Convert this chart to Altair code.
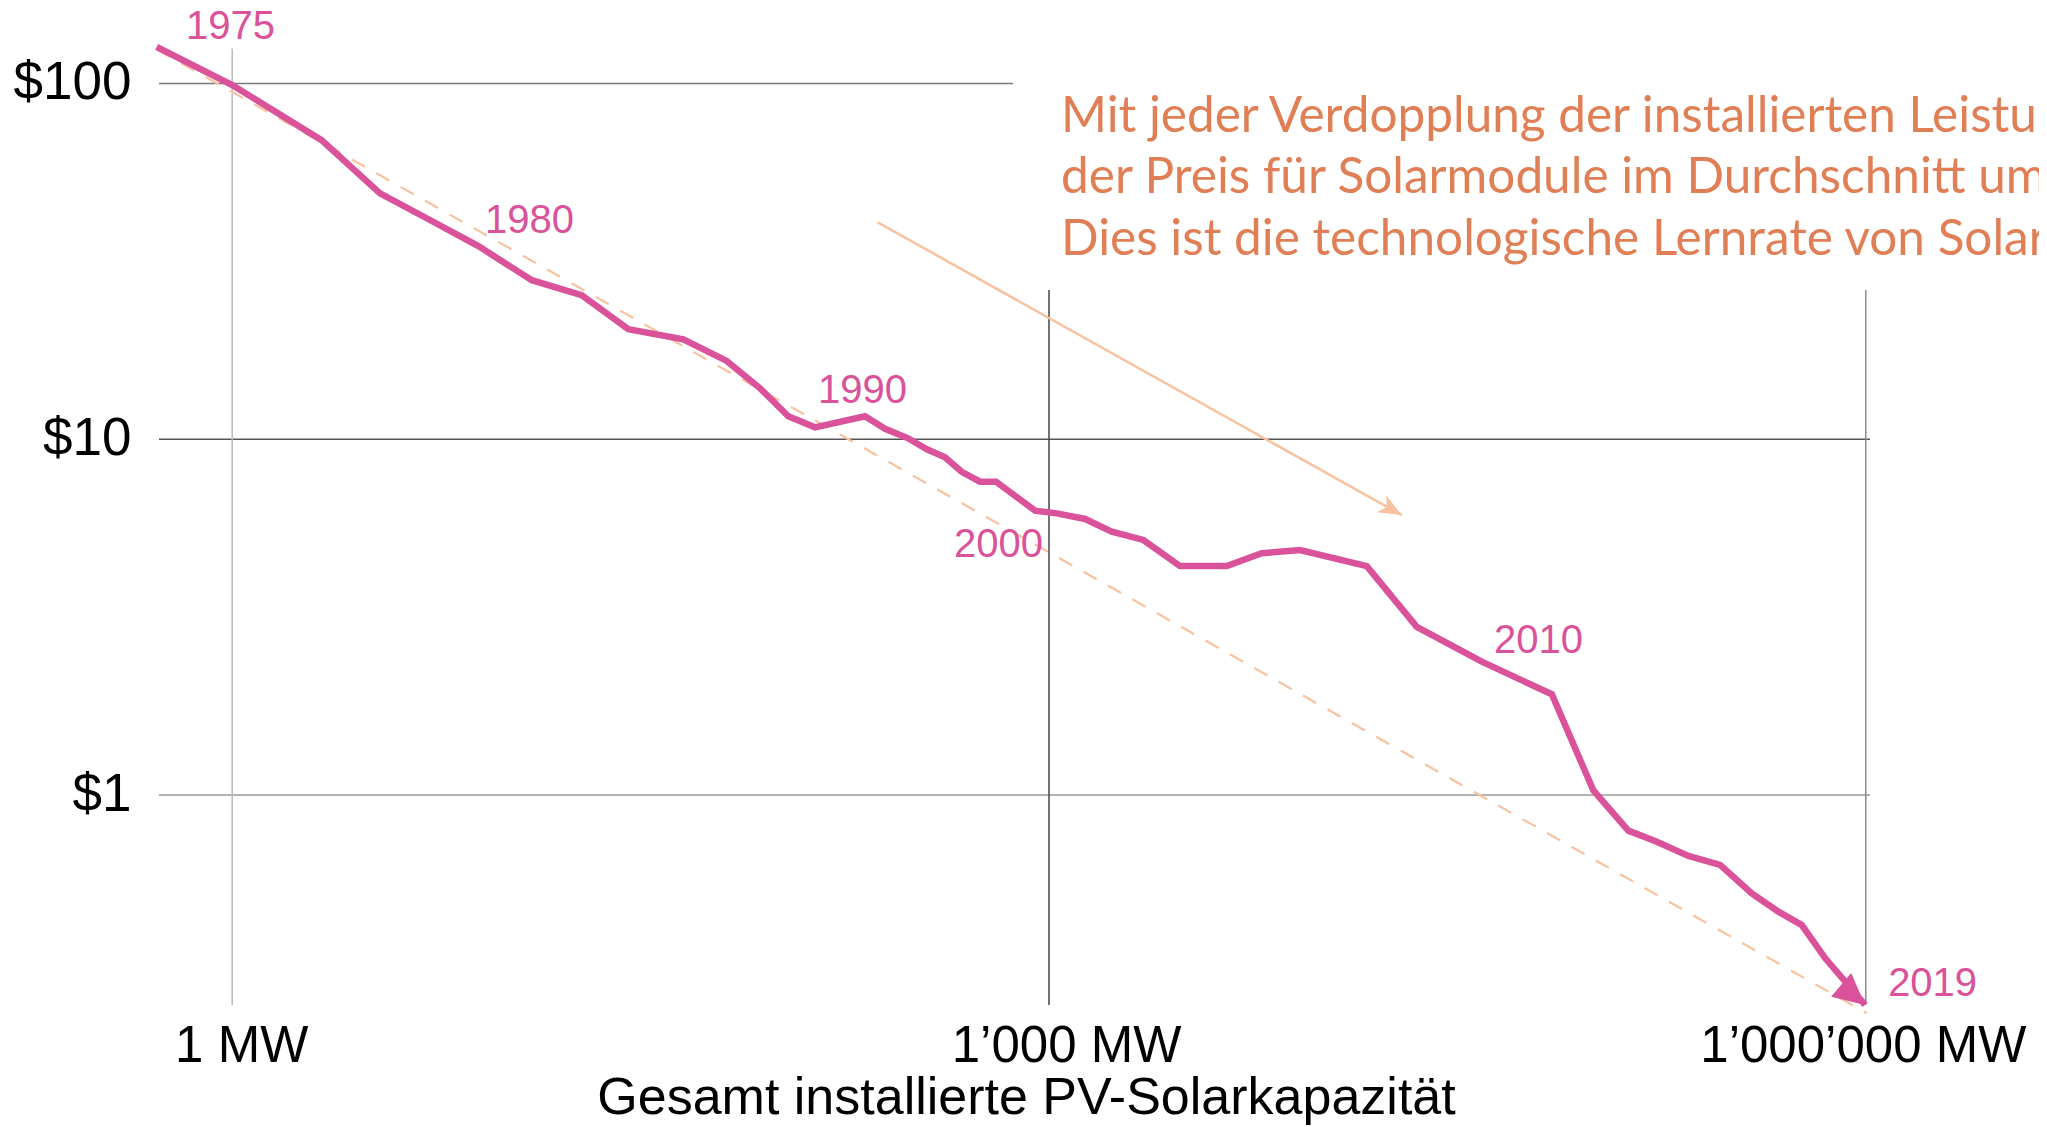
import altair as alt
import pandas as pd

# ---------------- data ----------------
capacity_mw = [0.528, 1.0, 2.13, 3.49, 5.18, 8.02, 12.6, 19.2, 28.5, 45.4, 65.5, 86.9,
               110.3, 138.2, 211, 250, 304, 356, 415, 478, 558, 639, 889, 1068, 1357,
               1701, 2221, 3029, 4497, 6046, 8360, 14700, 22430, 38870, 70270, 99900,
               134300, 170800, 223100, 291600, 381400, 477500, 582100, 708900, 994000]
price_usd = [126.8, 99.0, 69.3, 49.1, 41.8, 34.9, 28.0, 25.4, 20.4, 19.1, 16.6, 13.9,
             11.6, 10.8, 11.6, 10.7, 10.06, 9.37, 8.90, 8.10, 7.60, 7.60, 6.30, 6.19, 5.97,
             5.50, 5.21, 4.40, 4.40, 4.78, 4.88, 4.40, 2.97, 2.37, 1.92, 1.03,
             0.794, 0.739, 0.674, 0.636, 0.529, 0.470, 0.431, 0.348, 0.257]

year_labels = ["1975", "1980", "1990", "2000", "2010", "2019"]
year_label_x = [0.677, 8.49, 141.8, 447.9, 43120, 1208000]
year_label_y = [133.3, 37.97, 12.64, 4.667, 2.506, 0.2723]

trend_x = [0.528, 1008300]
trend_y = [124.7, 0.2435]

note_arrow_x = [235]
note_arrow_x2 = [19760]
note_arrow_y = [40.7]
note_arrow_y2 = [6.12]

note_lines = [
    "Mit jeder Verdopplung der installierten Leistung sank",
    "der Preis für Solarmodule im Durchschnitt um 20,2 %.",
    "Dies ist die technologische Lernrate von Solarmodulen.",
]
note_x = [1107.5, 1107.5, 1107.5]
note_y = [73.15, 49.11, 32.95]

x_tick_values = [1, 1000, 1000000]
x_tick_labels = ["1 MW", "1\u2019000 MW", "1\u2019000\u2019000 MW"]
y_tick_values = [1, 10, 100]
y_tick_labels = ["$1", "$10", "$100"]
x_title = "Gesamt installierte PV-Solarkapazität"

grid_names = ["h100", "h10", "h1", "v1", "v1000", "v1e6"]
X_DOMAIN = [0.5385, 1036300]
Y_DOMAIN = [0.2569, 150.8]
grid_x = [X_DOMAIN[0], X_DOMAIN[0], X_DOMAIN[0], 1, 1000, 1000000]
grid_x2 = [738, 1036300, 1036300, 1, 1000, 1000000]
grid_y = [100, 10, 1, Y_DOMAIN[0], Y_DOMAIN[0], Y_DOMAIN[0]]
grid_y2 = [100, 10, 1, 125.5, 26.26, 26.26]
grid_colors = ["#7a7a7a", "#555555", "#9a9a9a", "#b8b8b8", "#444444", "#8a8a8a"]

# ---------------- styles ----------------
PINK = "#d9529a"
PEACH = "#f8c2a0"
ORANGE = "#e07f55"
FONT = "Liberation Sans"


def label_expr(values, labels):
    expr = "''"
    for v, l in reversed(list(zip(values, labels))):
        expr = f"datum.value == {v} ? '{l}' : ({expr})"
    return expr


xs = alt.Scale(type="log", domain=X_DOMAIN, nice=False)
ys = alt.Scale(type="log", domain=Y_DOMAIN, nice=False)

x_axis = alt.Axis(
    values=x_tick_values, labelExpr=label_expr(x_tick_values, x_tick_labels),
    grid=False, domain=False, ticks=False, labelFont=FONT, labelFontSize=51,
    labelColor="black", labelBaseline="alphabetic", labelPadding=56, labelFlush=False,
    labelOverlap=False, labelLimit=0,
    labelOffset={"condition": [{"test": "datum.value == 1", "value": 9},
                               {"test": "datum.value == 1000", "value": 17}],
                 "value": -3},
    titleFont=FONT, titleFontSize=52, titleFontWeight="normal", titleColor="black",
    titleBaseline="alphabetic", titleY=108, titleX=867, titleAlign="center", titleLimit=0,
)
y_axis = alt.Axis(
    values=y_tick_values, labelExpr=label_expr(y_tick_values, y_tick_labels),
    grid=False, domain=False, ticks=False, labelFont=FONT, labelFontSize=53,
    labelColor="black", labelPadding=28, labelOffset=-1, labelFlush=False, labelLimit=0,
)


def X(field="x"):
    return alt.X(f"{field}:Q", scale=xs, axis=x_axis, title=x_title)


def Y(field="y"):
    return alt.Y(f"{field}:Q", scale=ys, axis=y_axis, title=None)


grid_df = pd.DataFrame({"name": grid_names, "x": grid_x, "x2": grid_x2,
                        "y": grid_y, "y2": grid_y2})
grid = alt.Chart(grid_df).mark_rule(strokeWidth=1.5).encode(
    x=X(), x2="x2:Q", y=Y(), y2="y2:Q",
    color=alt.Color("name:N", scale=alt.Scale(domain=grid_names, range=grid_colors), legend=None),
)

trend_df = pd.DataFrame({"x": trend_x, "y": trend_y})
trend = alt.Chart(trend_df).mark_line(color=PEACH, strokeWidth=2.2, strokeDash=[15, 13]).encode(
    x=X(), y=Y())

main_df = pd.DataFrame({"x": capacity_mw, "y": price_usd})
main = alt.Chart(main_df).mark_line(color=PINK, strokeWidth=6.5, strokeJoin="miter").encode(
    x=X(), y=Y())

tip_df = main_df.tail(1)
tip = alt.Chart(tip_df).mark_point(
    shape="M0,0L-0.5,1L0.5,1Z", size=3900, angle=130, filled=True, color=PINK,
    opacity=1, strokeWidth=0).encode(x=X(), y=Y())

arrow_df = pd.DataFrame({"x": note_arrow_x, "x2": note_arrow_x2, "y": note_arrow_y,
                         "y2": note_arrow_y2})
arrow = alt.Chart(arrow_df).mark_rule(color=PEACH, strokeWidth=2.5).encode(
    x=X(), x2="x2:Q", y=Y(), y2="y2:Q")
arrow_head_df = pd.DataFrame({"x": note_arrow_x2, "y": note_arrow_y2})
arrow_head = alt.Chart(arrow_head_df).mark_point(
    shape="M0,0L-0.42,1L0,0.72L0.42,1Z", size=2209, angle=119, filled=True, color=PEACH,
    opacity=1, strokeWidth=0).encode(x=X(), y=Y())

years_df = pd.DataFrame({"label": year_labels, "x": year_label_x, "y": year_label_y})
years = alt.Chart(years_df).mark_text(
    align="left", baseline="alphabetic", font=FONT, fontSize=40, color=PINK).encode(
    x=X(), y=Y(), text="label:N")

note_df = pd.DataFrame({"label": note_lines, "x": note_x, "y": note_y})
note = alt.Chart(note_df).mark_text(
    align="left", baseline="alphabetic", font="Lato", fontSize=49.5, color=ORANGE).encode(
    x=X(), y=Y(), text="label:N")

chart = alt.layer(grid, trend, main, tip, arrow, arrow_head, years, note).properties(
    width=1711, height=985,
    padding={"left": 151, "top": 12, "right": 169, "bottom": 122},
    autosize=alt.AutoSizeParams(type="none"),
).configure_view(stroke=None)

chart.save("out.html", embed_options={"renderer": "svg", "actions": False})
